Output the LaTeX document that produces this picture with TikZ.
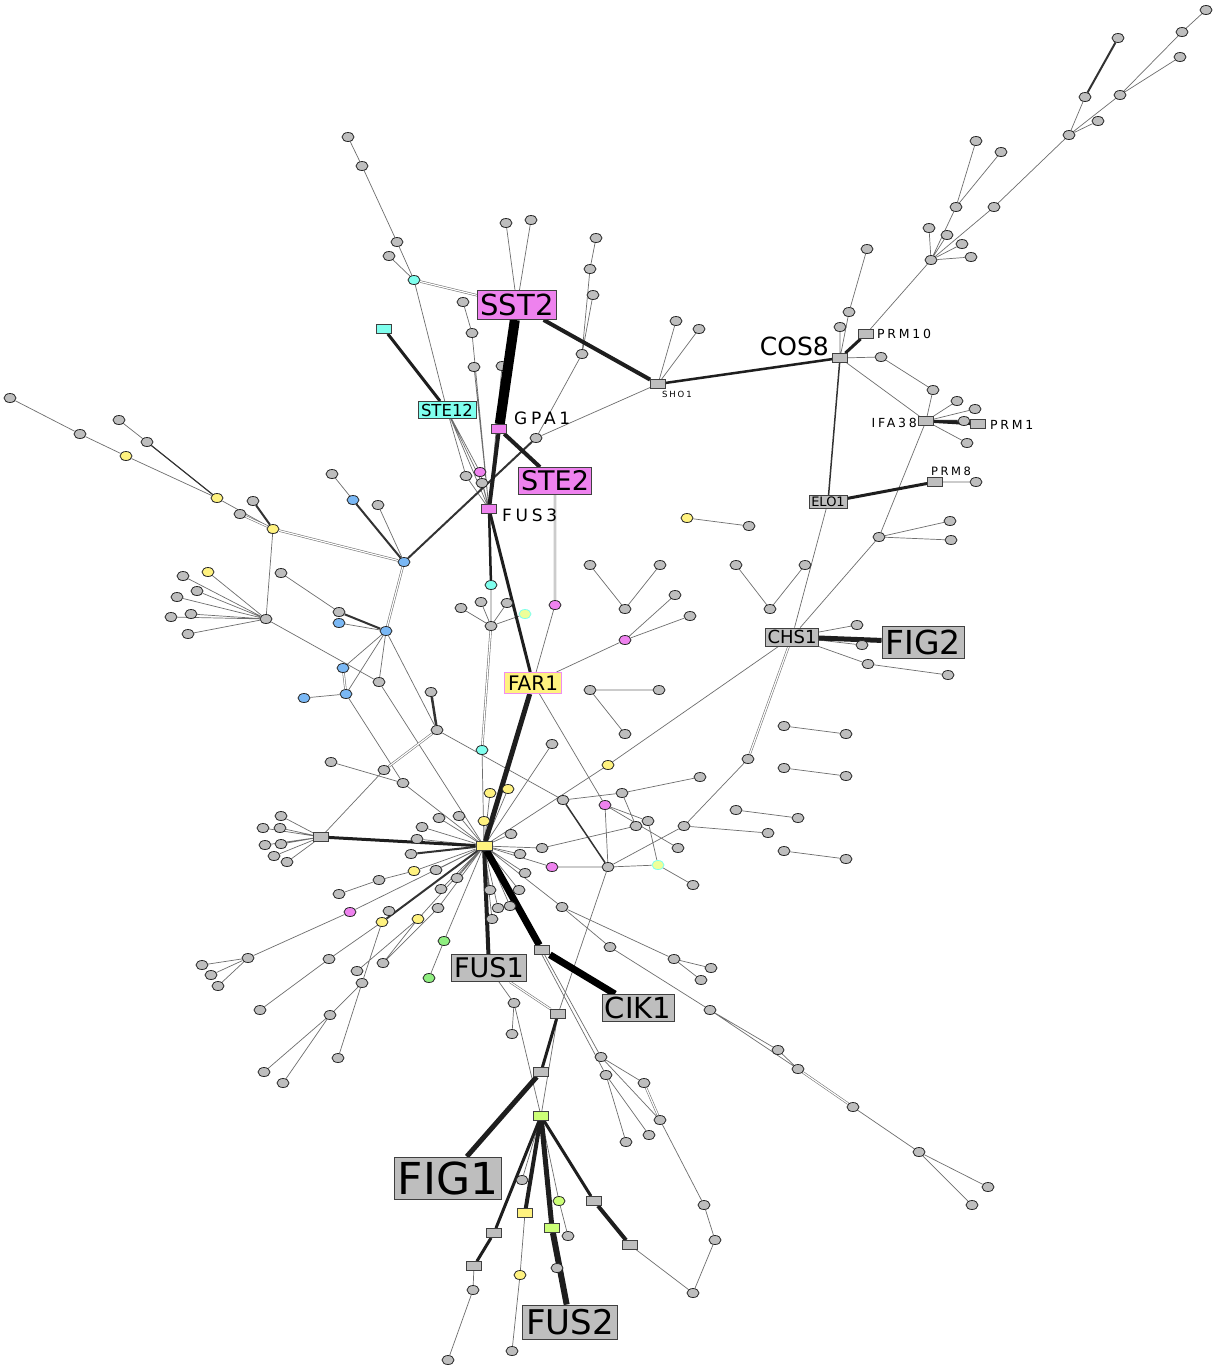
\documentclass[tikz,border=0pt]{standalone}
\usepackage{fontspec}
\setmainfont{DejaVu Sans}
\newfontfamily\spc[LetterSpace=22]{DejaVu Sans}
\usetikzlibrary{shapes.geometric}
\definecolor{ng}{HTML}{BEBEBE}
\definecolor{ny}{HTML}{FFF27F}
\definecolor{nb}{HTML}{7AB8F5}
\definecolor{nc}{HTML}{7FFFEE}
\definecolor{nm}{HTML}{EE82EE}
\definecolor{ngr}{HTML}{8FEE80}
\definecolor{nyg}{HTML}{CCFF77}
\definecolor{nl}{HTML}{EEFF99}
\definecolor{ln}{HTML}{6E6E6E}
\definecolor{dk}{HTML}{1E1E1E}
\newcommand\myfs[1]{\fontsize{#1}{#1}\selectfont}
\newcommand\myspf[1]{\spc\fontsize{#1}{#1}\selectfont}
\pgfdeclarelayer{bg}\pgfsetlayers{bg,main}
\tikzset{
 g/.style={ellipse,draw=black!85,line width=0.8pt,fill=ng,minimum width=12pt,minimum height=9pt,inner sep=0pt},
 gy/.style={g,fill=ny}, gb/.style={g,fill=nb}, gc/.style={g,fill=nc}, gm/.style={g,fill=nm},
 ggr/.style={g,fill=ngr}, gyg/.style={g,fill=nyg}, gl/.style={g,fill=nl,draw=nc},
 sq/.style={rectangle,draw=black!75,line width=0.8pt,fill=ng,minimum width=15pt,minimum height=9pt,inner sep=0pt},
 bx/.style={rectangle,draw=black!75,line width=0.9pt,fill=ng,inner sep=0pt,text=black},
 lab/.style={inner sep=0pt,text=black},
 e/.style={draw=ln,line width=0.7pt},
 dbl/.style={draw=ln,line width=0.55pt,double=white,double distance=1.2pt},
 ed/.style={draw=black!80,line width=#1},
 tk/.style={draw=dk,line width=#1},
}
\begin{document}
\begin{tikzpicture}[x=1pt,y=-1pt]
\useasboundingbox (0,0) rectangle (1215,1366);
% ---------- top ----------
\node[g] (n1) at (348,137) {};
\node[g] (n2) at (362,166) {};
\node[g] (n3) at (397,242) {};
\node[g] (n4) at (389,256) {};
\node[gc] (cA) at (414,280) {};
\node[g] (s1) at (506,223) {};
\node[g] (s2) at (531,220) {};
\node[bx,fill=nm,minimum width=79pt,minimum height=29pt,font=\myfs{29}] (SST2) at (517,305) {SST2};
\node[g] (t1) at (596,238) {};
\node[g] (t2) at (590,269) {};
\node[g] (t3) at (593,295) {};
\node[g] (t4) at (582,354) {};
\node[g] (u1) at (463,302) {};
\node[g] (u2) at (472,333) {};
\node[g] (u3) at (474,367) {};
\node[sq,fill=nc] (cB) at (384,329) {};
\node[bx,fill=nc,minimum width=58pt,minimum height=17pt,font=\myfs{16.5}] (STE12) at (447,410) {STE12};
\node[sq,fill=nm] (GPA1) at (499,429) {};
\node[lab,font=\myspf{17},anchor=west] (lGPA1) at (514,418) {GPA1};
\node[sq] (SHO1) at (658,384) {};
\node[lab,font=\myspf{8.5},anchor=west] (lSHO1) at (662,394) {SHO1};
\node[g] (h1) at (676,321) {};
\node[g] (h2) at (699,329) {};
\node[g] (t5) at (536,438) {};
\node[bx,fill=nm,minimum width=73pt,minimum height=27pt,font=\myfs{27}] (STE2) at (555,481) {STE2};
\node[sq,fill=nm] (FUS3) at (489,509) {};
\node[lab,font=\myspf{17},anchor=west] (lFUS3) at (502,515) {FUS3};
\node[gm] (mA) at (480,472) {};
\node[g] (v1) at (466,476) {};
\node[g] (v2) at (482,483) {};
% ---------- right top ----------
\node[g] (r1) at (1206,10) {};
\node[g] (r2) at (1182,32) {};
\node[g] (r3) at (1180,57) {};
\node[g] (r4) at (1118,38) {};
\node[g] (r5) at (1085,97) {};
\node[g] (r6) at (1120,95) {};
\node[g] (r7) at (1098,121) {};
\node[g] (r8) at (1069,135) {};
\node[g] (r9) at (994,207) {};
\node[g] (r10) at (976,141) {};
\node[g] (r11) at (1001,152) {};
\node[g] (r12) at (956,207) {};
\node[g] (r13) at (929,228) {};
\node[g] (r14) at (947,235) {};
\node[g] (r15) at (962,244) {};
\node[g] (r16) at (971,257) {};
\node[g] (r17) at (931,260) {};
\node[g] (r18) at (867,249) {};
\node[g] (r19) at (849,312) {};
\node[g] (r20) at (840,327) {};
\node[sq] (COS8) at (840,358) {};
\node[lab,font=\myfs{25},anchor=east] (lCOS8) at (829,346) {COS8};
\node[sq] (PRM10) at (866,334) {};
\node[lab,font=\myspf{12.5},anchor=west] (lPRM10) at (877,334) {PRM10};
\node[g] (r21) at (881,357) {};
\node[g] (r22) at (933,390) {};
\node[sq] (IFA38) at (926,421) {};
\node[lab,font=\myspf{12.5},anchor=east] (lIFA38) at (917,423) {IFA38};
\node[g] (r23) at (957,401) {};
\node[g] (r24) at (975,409) {};
\node[g] (r25) at (964,421) {};
\node[sq] (PRM1) at (978,424) {};
\node[lab,font=\myspf{12.5},anchor=west] (lPRM1) at (990,425) {PRM1};
\node[g] (r26) at (967,443) {};
% ---------- right middle ----------
\node[bx,minimum width=38pt,minimum height=13pt,font=\myfs{13}] (ELO1) at (828,502) {ELO1};
\node[sq] (PRM8) at (935,482) {};
\node[lab,font=\myspf{11.5}] (lPRM8) at (951,471) {PRM8};
\node[g] (p1) at (976,482) {};
\node[g] (q1) at (879,537) {};
\node[g] (q2) at (950,521) {};
\node[g] (q3) at (951,540) {};
\node[gy] (y1) at (687,518) {};
\node[g] (y2) at (749,526) {};
\node[g] (a1) at (590,565) {};
\node[g] (a2) at (660,565) {};
\node[g] (a3) at (625,609) {};
\node[g] (a4) at (736,565) {};
\node[g] (a5) at (805,565) {};
\node[g] (a6) at (770,609) {};
\node[gm] (mB) at (625,640) {};
\node[g] (a7) at (675,595) {};
\node[g] (a8) at (690,616) {};
\node[bx,minimum width=53pt,minimum height=18pt,font=\myfs{18}] (CHS1) at (792,637) {CHS1};
\node[bx,minimum width=82pt,minimum height=32pt,font=\myfs{33}] (FIG2) at (923,642) {FIG2};
\node[g] (c1) at (857,625) {};
\node[g] (c2) at (862,645) {};
\node[g] (c3) at (868,664) {};
\node[g] (c4) at (948,675) {};
\node[g] (a9) at (590,690) {};
\node[g] (a10) at (659,690) {};
\node[g] (a11) at (625,734) {};
\node[g] (k1) at (748,759) {};
\node[g] (j1) at (784,726) {};
\node[g] (j2) at (846,734) {};
\node[g] (j3) at (784,768) {};
\node[g] (j4) at (846,776) {};
\node[g] (j5) at (736,810) {};
\node[g] (j6) at (798,818) {};
\node[g] (j7) at (784,851) {};
\node[g] (j8) at (846,859) {};
\node[gy] (yA) at (608,765) {};
\node[g] (w1) at (563,800) {};
\node[g] (w2) at (622,793) {};
\node[g] (w3) at (700,777) {};
\node[gm] (mC) at (605,805) {};
\node[g] (w5) at (648,821) {};
\node[g] (w4) at (636,826) {};
\node[g] (k2) at (684,826) {};
\node[g] (k3) at (768,833) {};
\node[g] (w6) at (678,848) {};
\node[g] (z) at (608,867) {};
\node[gl] (lA) at (658,865) {};
\node[g] (w7) at (693,885) {};
% ---------- left ----------
\node[g] (L1) at (10,398) {};
\node[g] (L2) at (80,434) {};
\node[gy] (yL1) at (126,456) {};
\node[g] (L3) at (119,420) {};
\node[g] (L4) at (147,442) {};
\node[gy] (yL2) at (217,498) {};
\node[g] (L5) at (240,514) {};
\node[g] (L6) at (253,501) {};
\node[gy] (yL3) at (273,529) {};
\node[g] (L8) at (332,474) {};
\node[gb] (bA) at (353,500) {};
\node[g] (L9) at (378,505) {};
\node[gb] (b1) at (404,562) {};
\node[g] (L7) at (266,619) {};
\node[gy] (yL4) at (208,572) {};
\node[g] (f1) at (183,576) {};
\node[g] (f2) at (197,591) {};
\node[g] (f3) at (177,597) {};
\node[g] (f4) at (191,614) {};
\node[g] (f5) at (171,617) {};
\node[g] (f6) at (188,634) {};
\node[g] (M2) at (281,573) {};
\node[g] (M3) at (339,612) {};
\node[gb] (bB) at (339,623) {};
\node[gb] (b2) at (386,631) {};
\node[gb] (bC) at (343,668) {};
\node[gb] (bD) at (346,694) {};
\node[gb] (bE) at (304,698) {};
\node[g] (M1) at (379,682) {};
\node[g] (K0) at (431,692) {};
\node[g] (K1) at (437,730) {};
\node[g] (M5) at (331,762) {};
\node[g] (K2) at (384,770) {};
\node[g] (M4) at (403,783) {};
\node[sq] (SQA) at (321,837) {};
\node[g] (o1) at (281,816) {};
\node[g] (o2) at (263,828) {};
\node[g] (o3) at (280,828) {};
\node[g] (o4) at (265,845) {};
\node[g] (o5) at (281,844) {};
\node[g] (o6) at (274,856) {};
\node[g] (o7) at (287,862) {};
% ---------- center ----------
\node[gc] (cC) at (491,585) {};
\node[g] (P) at (491,626) {};
\node[g] (P1) at (461,608) {};
\node[g] (P2) at (481,602) {};
\node[g] (P3) at (507,603) {};
\node[gl] (lB) at (525,614) {};
\node[gm] (mE) at (555,605) {};
\node[bx,fill=ny,draw=nm!90,minimum width=57pt,minimum height=21pt,font=\myfs{20}] (FAR1) at (533,683) {FAR1};
\node[gc] (cD) at (482,750) {};
\node[g] (Q1) at (552,744) {};
\node[gy] (yC1) at (490,793) {};
\node[gy] (yC2) at (508,789) {};
\node[gy] (yC3) at (484,821) {};
\node[sq,fill=ny,minimum width=16pt] (hub) at (484,846) {};
% ---------- hub lower left ----------
\node[g] (H1) at (439,818) {};
\node[g] (H2) at (459,816) {};
\node[g] (H3) at (422,827) {};
\node[g] (H4) at (417,839) {};
\node[g] (H5) at (411,854) {};
\node[gy] (yH1) at (414,871) {};
\node[g] (H6) at (379,880) {};
\node[g] (H7) at (339,894) {};
\node[gm] (mH) at (350,912) {};
\node[g] (H8) at (248,958) {};
\node[g] (H9) at (202,965) {};
\node[g] (H10) at (211,975) {};
\node[g] (H11) at (218,986) {};
\node[g] (H12) at (436,870) {};
\node[g] (H13) at (457,878) {};
\node[g] (H14) at (441,889) {};
\node[g] (H15) at (438,908) {};
\node[g] (H16) at (389,911) {};
\node[gy] (yH2) at (382,922) {};
\node[gy] (yH3) at (418,919) {};
\node[g] (H17) at (329,959) {};
\node[g] (H18) at (260,1010) {};
\node[g] (H19) at (362,983) {};
\node[g] (H20) at (338,1058) {};
\node[g] (H21) at (330,1015) {};
\node[g] (H22) at (264,1072) {};
\node[g] (H23) at (283,1083) {};
\node[g] (H24) at (357,971) {};
\node[g] (H25) at (383,963) {};
\node[ggr] (gH) at (444,941) {};
\node[ggr] (gH2) at (429,978) {};
% ---------- hub right ----------
\node[g] (X1) at (511,834) {};
\node[g] (X2) at (520,854) {};
\node[g] (m1) at (542,848) {};
\node[gm] (mD) at (552,867) {};
\node[g] (X3) at (525,873) {};
\node[g] (X4) at (519,890) {};
\node[g] (X5) at (490,890) {};
\node[g] (X6) at (510,906) {};
\node[g] (X7) at (498,908) {};
\node[g] (X8) at (492,919) {};
\node[g] (R1) at (562,907) {};
\node[g] (R2) at (674,959) {};
\node[g] (R3) at (711,968) {};
\node[g] (R4) at (701,980) {};
\node[g] (R5) at (610,947) {};
\node[g] (R6) at (710,1010) {};
\node[g] (R7) at (778,1050) {};
\node[g] (R8) at (798,1069) {};
\node[g] (R9) at (853,1107) {};
\node[g] (R10) at (919,1152) {};
\node[g] (R11) at (988,1187) {};
\node[g] (R12) at (972,1205) {};
% ---------- bottom ----------
\node[bx,minimum width=75pt,minimum height=27pt,font=\myfs{27}] (FUS1) at (489,968) {FUS1};
\node[sq] (SQB) at (542,950) {};
\node[bx,minimum width=72pt,minimum height=27pt,font=\myfs{29}] (CIK1) at (638,1008) {CIK1};
\node[g] (B1) at (514,1003) {};
\node[g] (B2) at (512,1034) {};
\node[sq] (SQ1) at (558,1014) {};
\node[sq] (SQC) at (541,1072) {};
\node[sq,fill=nyg] (SQD) at (541,1116) {};
\node[bx,minimum width=107pt,minimum height=42pt,font=\myfs{44}] (FIG1) at (448,1178) {FIG1};
\node[g] (D1) at (601,1057) {};
\node[g] (D2) at (606,1075) {};
\node[g] (D3) at (644,1083) {};
\node[g] (D4) at (660,1120) {};
\node[g] (D5) at (626,1142) {};
\node[g] (D6) at (649,1135) {};
\node[g] (B9) at (522,1180) {};
\node[gyg] (gB) at (559,1201) {};
\node[sq,fill=ny] (SQY) at (525,1213) {};
\node[sq,fill=nyg] (SQG) at (552,1228) {};
\node[g] (B10) at (568,1236) {};
\node[sq] (SQE) at (494,1233) {};
\node[sq] (SQF) at (474,1266) {};
\node[g] (B3) at (473,1290) {};
\node[g] (B4) at (448,1360) {};
\node[gy] (yB) at (520,1275) {};
\node[g] (B5) at (512,1351) {};
\node[g] (B11) at (557,1268) {};
\node[sq] (SQH) at (594,1201) {};
\node[sq] (SQI) at (630,1245) {};
\node[g] (B6) at (693,1293) {};
\node[g] (B7) at (715,1240) {};
\node[g] (B8) at (704,1205) {};
\node[bx,minimum width=95pt,minimum height=34pt,font=\myfs{34}] (FUS2) at (570,1322) {FUS2};
% ================= edges =================
\begin{pgfonlayer}{bg}
\fill[white] (0,0) rectangle (1215,1366);
\node[g] (u4) at (502,366) {};
\draw[e] (n1)--(n2) (n2)--(n3) (n3)--(cA) (n4)--(cA) (cA)--(STE12) (s1)--(SST2) (s2)--(SST2)
 (t1)--(t2) (t2)--(t4) (t3)--(t4) (t4)--(t5) (t5)--(SHO1) (h1)--(SHO1) (h2)--(SHO1)
 (u1)--(u2) (u2)--(FUS3) (u3)--(FUS3) (u4)--(FUS3) (STE12)--(FUS3) (STE12)--(v1) (STE12)--(v2)
 (STE12)--(mA) (v1)--(FUS3) (v2)--(FUS3) (mA)--(FUS3);
\draw[e] (r1)--(r2) (r2)--(r6) (r3)--(r6) (r6)--(r8) (r5)--(r8) (r7)--(r8) (r8)--(r9) (r9)--(r17)
 (r10)--(r12) (r11)--(r12) (r12)--(r17) (r13)--(r17) (r14)--(r17) (r15)--(r17) (r16)--(r17)
 (r17)--(PRM10) (r18)--(r19) (r19)--(COS8) (r20)--(COS8) (COS8)--(r21) (r21)--(r22) (r22)--(IFA38)
 (COS8)--(IFA38) (IFA38)--(r23) (IFA38)--(r24) (IFA38)--(r26) (IFA38)--(q1) (PRM8)--(p1)
 (q1)--(q2) (q1)--(q3) (q1)--(CHS1) (ELO1)--(CHS1) (CHS1)--(c1) (CHS1)--(c2) (CHS1)--(c3) (c3)--(c4);
\draw[e] (y1)--(y2) (a1)--(a3) (a2)--(a3) (a4)--(a6) (a5)--(a6) (FAR1)--(mB) (mB)--(a7) (mB)--(a8)
 (a9)--(a10) (a9)--(a11) (j1)--(j2) (j3)--(j4) (j5)--(j6) (j7)--(j8) (k1)--(k2) (k2)--(k3) (k2)--(z)
 (CHS1)--(yA) (yA)--(hub) (w1)--(w2) (w2)--(w3) (w2)--(w4) (m1)--(w4) (mC)--(w5) (w5)--(lA)
 (mC)--(w6) (mC)--(z) (FAR1)--(mC) (z)--(lA) (lA)--(w7) (z)--(mD) (mD)--(hub) (z)--(SQ1) (K1)--(w1);
\draw[e] (L1)--(L2) (L2)--(yL1) (yL1)--(yL2) (L3)--(L4) (yL2)--(yL3) (yL3)--(L7) (L8)--(bA) (L9)--(b1)
 (L7)--(yL4) (L7)--(f1) (L7)--(f2) (L7)--(f3) (L7)--(f4) (L7)--(f5) (L7)--(f6) (L7)--(M1) (M1)--(hub)
 (M1)--(b2) (M2)--(M3) (bB)--(b2) (b2)--(bC) (b2)--(bD) (bE)--(bD) (bD)--(M4) (M4)--(hub) (M5)--(M4)
 (b2)--(K1) (K2)--(SQA) (SQA)--(o1) (SQA)--(o2) (SQA)--(o3) (SQA)--(o4) (SQA)--(o5) (SQA)--(o6) (SQA)--(o7);
\draw[e] (cC)--(P) (P)--(P1) (P)--(P2) (P)--(P3) (P)--(lB) (mE)--(FAR1) (cD)--(hub)
 (hub)--(yC1) (hub)--(yC2) (hub)--(yC3) (hub)--(Q1);
\draw[e] (hub)--(H1) (hub)--(H2) (hub)--(H3) (hub)--(H4) (hub)--(yH1) (yH1)--(H6) (H6)--(H7)
 (hub)--(mH) (mH)--(H8) (H8)--(H9) (H8)--(H10) (H8)--(H11) (hub)--(H12) (hub)--(H13) (hub)--(H14)
 (hub)--(H15) (yH2)--(H17) (H17)--(H18) (yH2)--(H19) (H19)--(H20) (H19)--(H21) (H21)--(H22) (H21)--(H23)
 (hub)--(yH3) (yH3)--(H25) (yH3)--(H24) (H15)--(H25) (hub)--(gH) (gH)--(gH2);
\draw[e] (hub)--(X1) (hub)--(X2) (hub)--(m1) (hub)--(X3) (hub)--(X4) (hub)--(X5) (hub)--(X6)
 (hub)--(X7) (hub)--(X8) (hub)--(R1) (R1)--(R2) (R2)--(R3) (R2)--(R4) (R1)--(R5) (R5)--(R6)
 (R6)--(R7) (R6)--(R8) (R7)--(R8) (R9)--(R10) (R10)--(R11) (R10)--(R12);
\draw[e] (FUS1)--(B1) (B1)--(B2) (B1)--(SQD) (SQ1)--(SQD) (SQF)--(B3) (B3)--(B4) (SQY)--(yB) (yB)--(B5)
 (SQI)--(B6) (B6)--(B7) (B7)--(B8) (B8)--(D4) (SQD)--(B9) (SQD)--(gB) (gB)--(B10) (SQD)--(B11)
 (SQB)--(D1) (hub)--(D2) (D1)--(D3) (D1)--(D4) (D2)--(D5) (D2)--(D6);
\draw[dbl] (cA)--(SST2) (CHS1)--(k1) (L5)--(yL3) (yL3)--(b1) (b1)--(b2) (bC)--(bD) (K1)--(K2)
 (P)--(cD) (STE2)--(mE) (R8)--(R9) (FUS1)--(SQ1) (D3)--(D4);
\draw[ed=2pt] (t5)--(b1) (bA)--(b1) (L6)--(yL3) (M3)--(b2) (r4)--(r5) (hub)--(H5) (hub)--(yH2);
\draw[ed=1.5pt] (w1)--(z) (COS8)--(ELO1);
\draw[ed=2.5pt] (K0)--(K1) (IFA38)--(r25);
\draw[ed=1.2pt] (L4)--(yL2);
\draw[draw=black,line width=10pt] (SST2)--(GPA1);
\draw[tk=4pt] (SST2)--(SHO1) (GPA1)--(STE2) (GPA1)--(FUS3) (hub)--(FUS1) (SQD)--(SQY) (SQH)--(SQI);
\draw[tk=2.5pt] (SHO1)--(COS8) (FUS3)--(cC);
\draw[tk=3pt] (cB)--(STE12) (COS8)--(PRM10) (ELO1)--(PRM8) (IFA38)--(PRM1) (FUS3)--(FAR1) (SQA)--(hub)
 (SQ1)--(SQC) (SQD)--(SQE) (SQE)--(SQF) (SQD)--(SQH);
\draw[tk=5pt] (CHS1)--(FIG2) (FAR1)--(hub) (SQC)--(FIG1) (SQD)--(SQG);
\draw[tk=6pt] (SQG)--(FUS2);
\draw[draw=black,line width=7pt] (hub)--(SQB) (SQB)--(CIK1);
\end{pgfonlayer}
\end{tikzpicture}
\end{document}
